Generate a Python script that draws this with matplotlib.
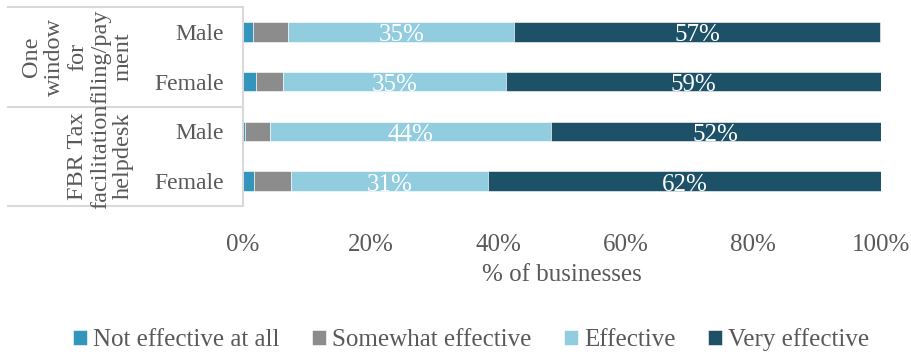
import numpy as np
import matplotlib.pyplot as plt
from matplotlib.lines import Line2D

plt.rcParams['font.family'] = ['Liberation Serif', 'DejaVu Serif']

groups = ["One\nwindow\nfor\nfiling/pay\nment", "FBR Tax\nfacilitation\nhelpdesk"]
genders = ["Male", "Female", "Male", "Female"]
series = ["Not effective at all", "Somewhat effective", "Effective", "Very effective"]
colors = ["#3394BC", "#8C8C8C", "#92CDDF", "#1D5168"]

not_effective = [1.5, 2.0, 0.3, 1.7]
somewhat = [5.6, 4.3, 4.0, 5.8]
effective = [35.4, 34.9, 43.9, 30.9]
very_effective = [57.4, 58.8, 51.8, 61.6]

W, H = 912, 356
fig = plt.figure(figsize=(W / 100, H / 100), dpi=100)
ax = fig.add_axes([243 / W, 1 - 206 / H, (881 - 243) / W, (206 - 7) / H])

txt = "#595959"
grid = "#D9D9D9"
y = np.arange(len(genders))
left = np.zeros(len(genders))
for vals, name, c in zip([not_effective, somewhat, effective, very_effective], series, colors):
    vals = np.array(vals)
    ax.barh(y, vals, left=left, height=0.39, color=c, label=name,
            edgecolor="white", linewidth=0.4)
    if name in ("Effective", "Very effective"):
        for yi, l, v in zip(y, left, vals):
            ax.text(l + v / 2, yi + 0.02, f"{v:.0f}%", ha="center", va="center_baseline",
                    color="white", fontsize=18)
    left += vals

ax.set_xlim(0, 100)
ax.set_ylim(3.5, -0.5)
ax.set_yticks(y)
ax.set_yticklabels(genders, fontsize=17, color=txt)
ax.set_xticks(np.arange(0, 101, 20))
ax.set_xticklabels([f"{t}%" for t in range(0, 101, 20)], fontsize=18, color=txt)
ax.tick_params(length=0)
ax.tick_params(axis="y", pad=14)
ax.tick_params(axis="x", pad=20)
ax.set_xlabel("% of businesses", fontsize=18, color=txt, labelpad=6)
for s in ["top", "right", "bottom"]:
    ax.spines[s].set_visible(False)
ax.spines["left"].set_color(grid)
ax.spines["left"].set_linewidth(1.5)

# multi-level category box on the left
for py in [7, 107, 205.5]:
    fig.add_artist(Line2D([8 / W, 241 / W], [1 - py / H, 1 - py / H],
                          color=grid, linewidth=1.5))
for g, cy in zip(groups, [57, 156]):
    fig.text(134 / W, 1 - cy / H, g, rotation=90, ha="right", va="center",
             multialignment="center", fontsize=17.5, color=txt, linespacing=1.12)

leg = fig.legend(loc="center", bbox_to_anchor=(471 / W, 1 - 340 / H), ncol=4,
                 frameon=False, fontsize=18, handlelength=0.55, handleheight=0.55,
                 handletextpad=0.25, columnspacing=1.3)
for t in leg.get_texts():
    t.set_color(txt)

fig.savefig("out.png", dpi=100)
